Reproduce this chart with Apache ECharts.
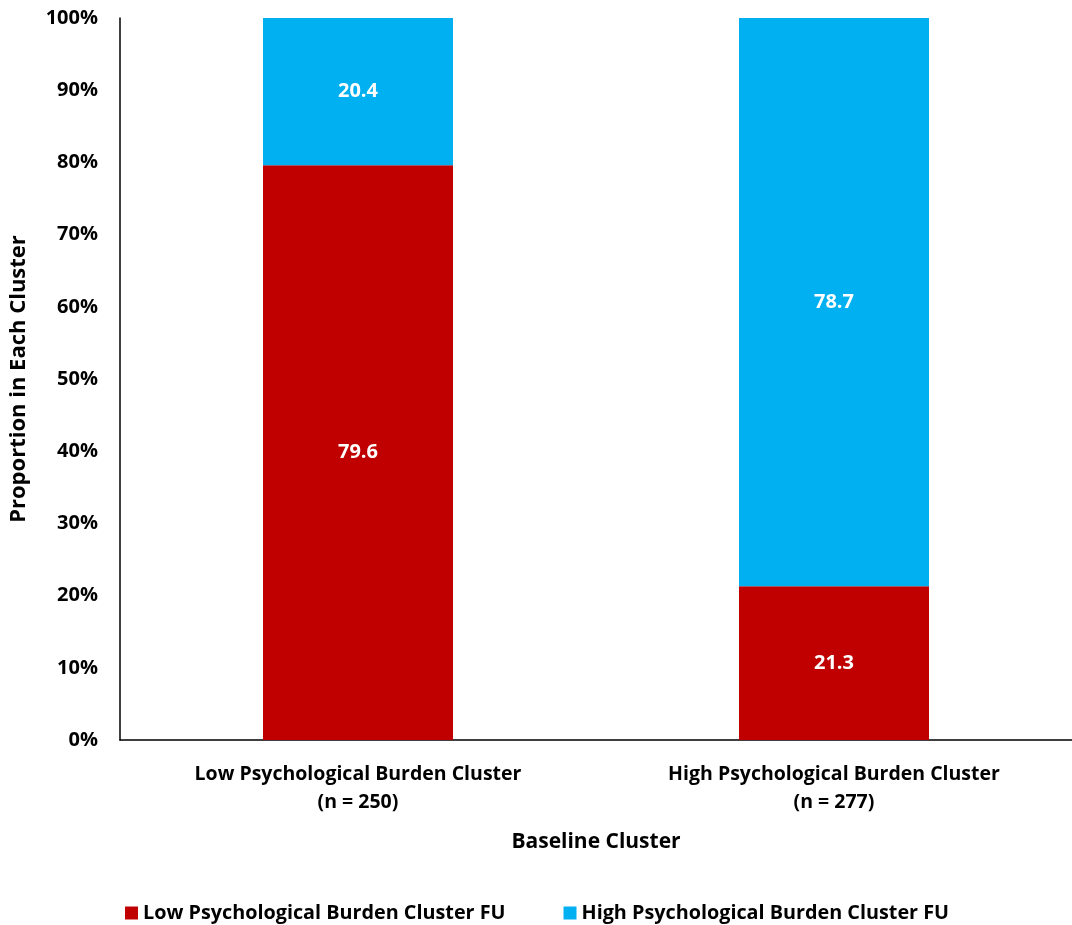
<!DOCTYPE html>
<html>
<head>
<meta charset="utf-8">
<script src="https://cdn.jsdelivr.net/npm/echarts@6/dist/echarts.min.js"></script>
<style>
  html, body { margin: 0; padding: 0; background: #fff; }
  #chart { width: 1072px; height: 925px; }
</style>
</head>
<body>
<div id="chart"></div>
<script>
var categorias = ['Low Psychological Burden Cluster\n(n = 250)', 'High Psychological Burden Cluster\n(n = 277)'];
var nombresSeries = ['Low Psychological Burden Cluster FU', 'High Psychological Burden Cluster FU'];
var valoresBajo = [79.6, 21.3];
var valoresAlto = [20.4, 78.7];
var colores = ['#C00000', '#00B0F0'];

var fuente = 'Open Sans';

var myChart = echarts.init(document.getElementById('chart'));

function etiqueta(){
  return {
    show: true,
    position: 'inside',
    color: '#fff',
    fontFamily: fuente,
    fontWeight: 'bold',
    fontSize: 20,
    formatter: function(p){ return p.value.toFixed(1); }
  };
}

myChart.setOption({
  animation: false,
  color: colores,
  textStyle: { fontFamily: fuente },
  grid: { left: 120, right: 0, top: 18, bottom: 185, containLabel: false, outerBoundsMode: 'none' },
  legend: {
    top: 898,
    left: 120,
    itemWidth: 13,
    itemHeight: 13,
    itemGap: 58,
    icon: 'rect',
    textStyle: { fontFamily: fuente, fontWeight: 'bold', fontSize: 19.8, color: '#000' },
    data: nombresSeries
  },
  xAxis: {
    type: 'category',
    data: categorias,
    name: 'Baseline Cluster',
    nameLocation: 'middle',
    nameGap: 92,
    nameTextStyle: { fontFamily: fuente, fontWeight: 'bold', fontSize: 21, color: '#000' },
    axisLine: { lineStyle: { color: '#000', width: 1.5 } },
    axisTick: { show: false },
    axisLabel: { color: '#000', fontFamily: fuente, fontWeight: 'bold', fontSize: 19.5, margin: 20, lineHeight: 28 }
  },
  yAxis: {
    type: 'value',
    min: 0,
    max: 100,
    interval: 10,
    name: 'Proportion in Each Cluster',
    nameLocation: 'middle',
    nameGap: 90,
    nameTextStyle: { fontFamily: fuente, fontWeight: 'bold', fontSize: 22, color: '#000' },
    axisLine: { show: true, lineStyle: { color: '#000', width: 1.5 } },
    axisTick: { show: false },
    splitLine: { show: false },
    axisLabel: { color: '#000', fontFamily: fuente, fontWeight: 'bold', fontSize: 20, margin: 22, formatter: '{value}%' }
  },
  series: [{
    name: nombresSeries[0],
    type: 'bar',
    stack: 'total',
    barWidth: 190,
    data: valoresBajo,
    label: etiqueta()
  }, {
    name: nombresSeries[1],
    type: 'bar',
    stack: 'total',
    barWidth: 190,
    data: valoresAlto,
    label: etiqueta()
  }]
});
</script>
</body>
</html>
